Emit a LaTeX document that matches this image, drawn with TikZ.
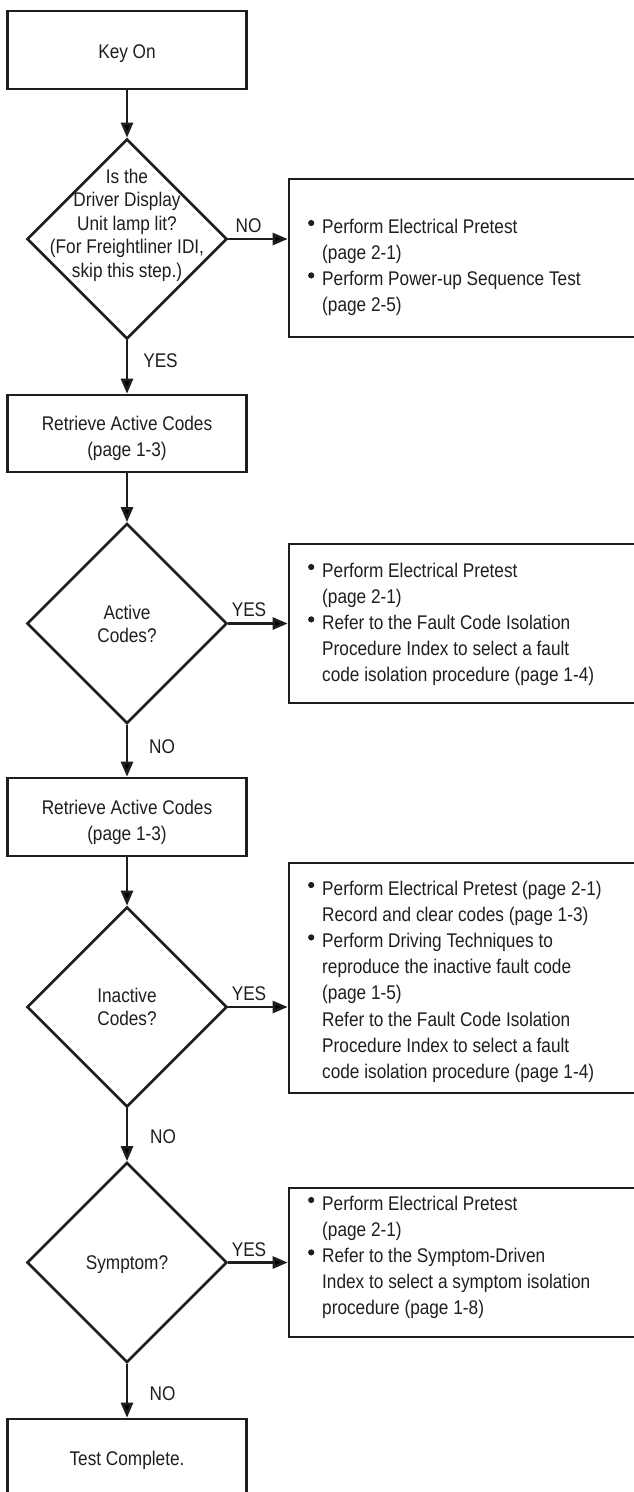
\documentclass[tikz,border=0pt]{standalone}
\usepackage{fontspec}
\setmainfont{Liberation Sans}[FakeStretch=0.87]
\usetikzlibrary{shapes.geometric,arrows.meta}
\definecolor{ink}{HTML}{1E1E1E}
\newcommand\clines[2]{\vtop{\baselineskip=#1\halign{\hfil##\hfil\cr#2\crcr}}}
\newcommand\llines[2]{\vtop{\baselineskip=#1\halign{##\hfil\cr#2\crcr}}}
\newcommand\bul{\llap{\tikz[baseline=0pt]\fill[ink] (0pt,10pt) circle (3.1pt);\hspace{7.9pt}}}
\tikzset{
  box/.style={draw=ink, line width=2.6pt, minimum width=239pt, minimum height=77pt, inner sep=0pt},
  dia/.style={draw=ink, line width=2.6pt, diamond, aspect=1, minimum width=200pt, minimum height=200pt, inner sep=0pt},
  rbox/.style={draw=ink, line width=2.6pt, minimum width=356pt, inner sep=0pt},
  txt/.style={font=\fontsize{19.8}{26}\selectfont, text=ink, inner sep=0pt},
  arr/.style={draw=ink, line width=2.6pt, -{Triangle[length=15pt,width=12pt]}}
}
\begin{document}
\begin{tikzpicture}[x=1pt,y=-1pt]
\useasboundingbox (0,0) rectangle (634,1492);
\clip (0,0) rectangle (634,1492);
% left column
\node[box, minimum height=78pt] (key) at (127,50) {};
\node[txt, anchor=base] (keyt) at (127,58) {Key On};
\node[dia] (d1) at (127,239) {};
\node[txt, anchor=base] (d1t) at (127,183) {\clines{23.6pt}{Is the\cr Driver Display\cr Unit lamp lit?\cr (For Freightliner IDI,\cr skip this step.)}};
\node[box] (ret1) at (127,433.5) {};
\node[txt, anchor=base] (ret1t) at (127,430) {\clines{26pt}{Retrieve Active Codes\cr (page 1-3)}};
\node[dia] (d2) at (127,623.5) {};
\node[txt, anchor=base] (d2t) at (127,619) {\clines{23pt}{Active\cr Codes?}};
\node[box, minimum height=78pt] (ret2) at (127,817) {};
\node[txt, anchor=base] (ret2t) at (127,814) {\clines{26pt}{Retrieve Active Codes\cr (page 1-3)}};
\node[dia] (d3) at (127,1007) {};
\node[txt, anchor=base] (d3t) at (127,1002) {\clines{23pt}{Inactive\cr Codes?}};
\node[dia] (d4) at (127,1262.5) {};
\node[txt, anchor=base] (d4t) at (127,1269) {Symptom?};
\node[box] (test) at (127,1457.5) {};
\node[txt, anchor=base] (testt) at (127,1465) {Test Complete.};
% right boxes
\node[rbox, minimum height=158pt] (rb1) at (467,258) {};
\node[txt, anchor=base west] (rb1t) at (322,233) {\llines{26.2pt}{\bul Perform Electrical Pretest\cr (page 2-1)\cr \bul Perform Power-up Sequence Test\cr (page 2-5)}};
\node[rbox, minimum height=159pt] (rb2) at (467,623.5) {};
\node[txt, anchor=base west] (rb2t) at (322,577) {\llines{26.2pt}{\bul Perform Electrical Pretest\cr (page 2-1)\cr \bul Refer to the Fault Code Isolation\cr Procedure Index to select a fault\cr code isolation procedure (page 1-4)}};
\node[rbox, minimum height=230pt] (rb3) at (467,978) {};
\node[txt, anchor=base west] (rb3t) at (322,895) {\llines{26.2pt}{\bul Perform Electrical Pretest (page 2-1)\cr Record and clear codes (page 1-3)\cr \bul Perform Driving Techniques to\cr reproduce the inactive fault code\cr (page 1-5)\cr Refer to the Fault Code Isolation\cr Procedure Index to select a fault\cr code isolation procedure (page 1-4)}};
\node[rbox, minimum height=149pt] (rb4) at (467,1262.5) {};
\node[txt, anchor=base west] (rb4t) at (322,1210) {\llines{26.2pt}{\bul Perform Electrical Pretest\cr (page 2-1)\cr \bul Refer to the Symptom-Driven\cr Index to select a symptom isolation\cr procedure (page 1-8)}};
% connectors
\draw[arr] (key) -- (d1);
\draw[arr] (d1.east) -- (d1.east -| rb1.west);
\draw[arr] (d1) -- (ret1);
\draw[arr] (ret1) -- (d2);
\draw[arr] (d2.east) -- (d2.east -| rb2.west);
\draw[arr] (d2) -- (ret2);
\draw[arr] (ret2) -- (d3);
\draw[arr] (d3.east) -- (d3.east -| rb3.west);
\draw[arr] (d3) -- (d4);
\draw[arr] (d4.east) -- (d4.east -| rb4.west);
\draw[arr] (d4) -- (test);
% labels
\node[txt, anchor=base] (l1) at (248.5,232) {NO};
\node[txt, anchor=base] (l2) at (160.5,367) {YES};
\node[txt, anchor=base] (l3) at (249,616) {YES};
\node[txt, anchor=base] (l4) at (162,753) {NO};
\node[txt, anchor=base] (l5) at (249,1000) {YES};
\node[txt, anchor=base] (l6) at (163,1143) {NO};
\node[txt, anchor=base] (l7) at (249,1256) {YES};
\node[txt, anchor=base] (l8) at (162.5,1400) {NO};
\end{tikzpicture}
\end{document}
